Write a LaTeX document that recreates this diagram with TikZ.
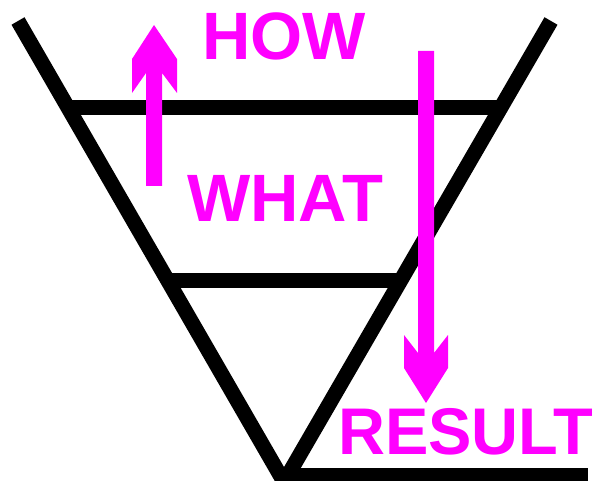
\documentclass[tikz,border=0pt]{standalone}
\usepackage{fontspec}
\setmainfont{Liberation Sans}
\definecolor{mag}{RGB}{255,0,255}
\tikzset{
  frame/.style={line width=15pt, black, line join=miter},
  arrowshape/.style={fill=mag, draw=none},
  word/.style={text=mag, font=\fontsize{67}{67}\selectfont\bfseries, inner sep=0pt, anchor=base west}
}
\begin{document}
\begin{tikzpicture}[x=1pt,y=-1pt]
\useasboundingbox (0,0) rectangle (594,481);
% funnel outline
\coordinate (lt) at (18,21);
\coordinate (rt) at (551,21);
\coordinate (vx) at (284,482);
\draw[frame] (lt) -- (vx) -- (rt);
\coordinate (h1l) at (66,108);
\coordinate (h1r) at (498,108);
\coordinate (h2l) at (166,280);
\coordinate (h2r) at (400,280);
\coordinate (h3l) at (284,475);
\coordinate (h3r) at (588,475);
\draw[frame] (h1l) -- (h1r);
\draw[frame] (h2l) -- (h2r);
\draw[frame] (h3l) -- (h3r);
% up arrow
\fill[arrowshape] (154,25) -- (177,59) -- (177,93) -- (162,73) -- (162,186) -- (146,186) -- (146,73) -- (132,93) -- (132,59) -- cycle;
% down arrow
\fill[arrowshape] (418,51) -- (434,51) -- (434,353) -- (448,335) -- (448,368) -- (426,403) -- (404,368) -- (404,335) -- (418,353) -- cycle;
% labels
\node[word] (how) at (202,60) {HOW};
\node[word] (what) at (187,222) {WHAT};
\node[word, xscale=0.985, font=\fontsize{66}{66}\selectfont\bfseries] (result) at (338,454) {RESULT};
\end{tikzpicture}
\end{document}
